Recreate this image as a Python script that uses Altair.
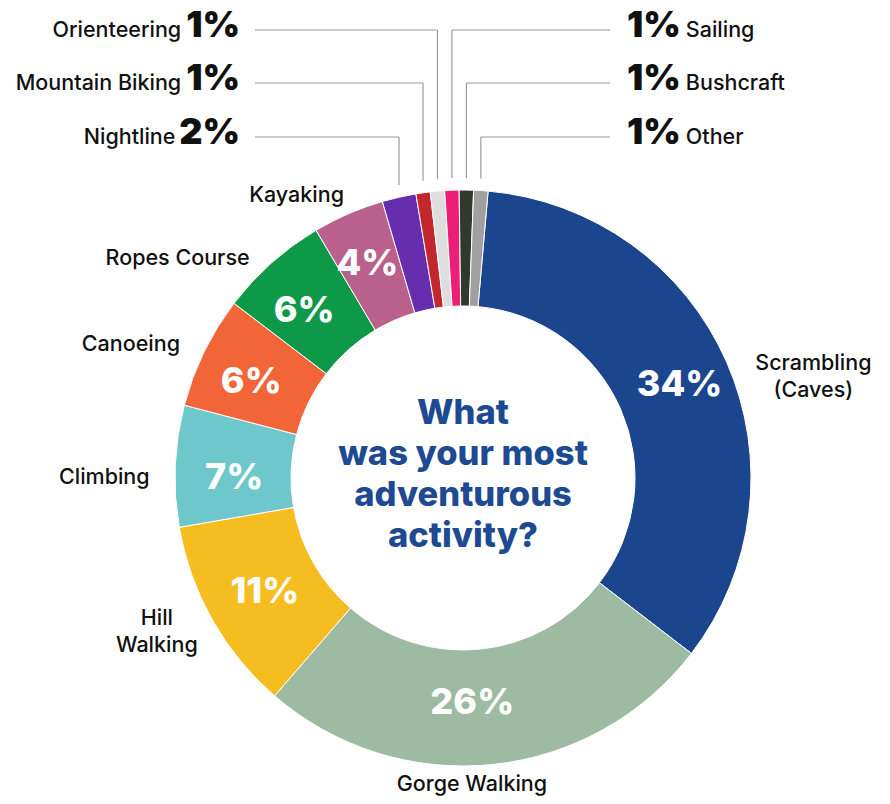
import math
import altair as alt
import pandas as pd

# ---------------- data ----------------
categories = ["Scrambling (Caves)", "Gorge Walking", "Hill Walking", "Climbing", "Canoeing",
              "Ropes Course", "Kayaking", "Nightline", "Mountain Biking", "Orienteering",
              "Sailing", "Bushcraft", "Other"]
display_names = ["Scrambling\n(Caves)", "Gorge Walking", "Hill\nWalking", "Climbing", "Canoeing",
                 "Ropes Course", "Kayaking", "Nightline", "Mountain Biking", "Orienteering",
                 "Sailing", "Bushcraft", "Other"]
shares = [34.0, 25.9, 10.9, 6.8, 6.3, 6.1, 4.0, 1.9, 0.8, 0.8, 0.8, 0.8, 0.8]
pct_labels = ["34%", "26%", "11%", "7%", "6%", "6%", "4%", "2%", "1%", "1%", "1%", "1%", "1%"]
colors = ["#1b468e", "#9dbba2", "#f5bd1f", "#6dc7cb", "#f26539", "#0e9949", "#b9608c",
          "#662daf", "#c4262e", "#dedede", "#ec1e78", "#2f3a2c", "#a0a0a0"]
title_text = "What\nwas your most\nadventurous\nactivity?"

# ---------------- layout ----------------
M = 8                      # page margin
W, H = 874, 788
CX, CY = 463 - M, 478 - M  # donut centre (plot coords)
R_OUT, R_IN = 288, 172
START = math.radians(5)
FONT = "Inter"
NAME_FS = 21.5
BIG_FS = 36
LABEL_LH = 27
TITLE_LH = 41

total = sum(shares)
n = len(categories)

# mid angles
mids = []
acc = 0.0
for s in shares:
    mids.append(START + (acc + s / 2) / total * 2 * math.pi)
    acc += s

def polar(a, r):
    return CX + r * math.sin(a), CY - r * math.cos(a)

# inner percent labels (large slices)
inner_nudge = {0: (6, 0), 1: (-14, -4), 2: (2, 1), 3: (1, 10), 4: (-5, 5), 5: (-6, 5), 6: (-4, -3)}
inner_rows = []
for i in range(n):
    if i in inner_nudge:
        x, y = polar(mids[i], 230)
        dx, dy = inner_nudge[i]
        inner_rows.append({"x": x + dx, "y": y + dy, "t": pct_labels[i]})
inner_df = pd.DataFrame(inner_rows)

# outer category labels (large slices); nudges give the block centre
outer_nudge = {0: (62, 26), 1: (-23, -6), 2: (-32, -1), 3: (-44, 13), 4: (-49, 5),
               5: (-76, 16), 6: (-41, 7)}
outer_rows = []
for i in range(n):
    if i in outer_nudge:
        x, y = polar(mids[i], 315)
        dx, dy = outer_nudge[i]
        lines = display_names[i].count("\n") + 1
        outer_rows.append({"x": x + dx, "y": y + dy - (lines - 1) * LABEL_LH / 2,
                           "t": display_names[i]})
outer_df = pd.DataFrame(outer_rows)

# small slices with leader lines
small = [i for i in range(n) if shares[i] < 3]
half = len(small) // 2
left = sorted(small[:half], reverse=True)   # top tier first
right = small[half:]
BASE_Y = [37 - M, 90 - M, 144 - M]
LEFT_END, RIGHT_END = 240 - M, 627 - M
LINE_L, LINE_R = 255 - M, 610 - M

def pct_width(t, fs):
    em = {"1": 0.6, "2": 0.76, "%": 0.84}
    return sum(em.get(ch, 0.7) for ch in t) * fs

seg_rows, big_rows, name_rows = [], [], []
for side, group in (("L", left), ("R", right)):
    for tier, i in enumerate(group):
        by = BASE_Y[tier]
        ly = by - 7
        vx = CX + R_OUT * math.sin(mids[i])
        vy = CY - math.sqrt((R_OUT + 12) ** 2 - (vx - CX) ** 2)
        seg_rows.append({"x": vx, "y": ly, "x2": vx, "y2": vy})
        pw = pct_width(pct_labels[i], BIG_FS)
        if side == "L":
            seg_rows.append({"x": LINE_L, "y": ly, "x2": vx, "y2": ly})
            big_rows.append({"x": LEFT_END, "y": by, "t": pct_labels[i], "a": "right"})
            name_rows.append({"x": LEFT_END - pw - 7, "y": by, "t": display_names[i], "a": "right"})
        else:
            seg_rows.append({"x": vx, "y": ly, "x2": LINE_R, "y2": ly})
            big_rows.append({"x": RIGHT_END, "y": by, "t": pct_labels[i], "a": "left"})
            name_rows.append({"x": RIGHT_END + pw + 7, "y": by, "t": display_names[i], "a": "left"})
seg_df = pd.DataFrame(seg_rows)
big_df = pd.DataFrame(big_rows)
name_df = pd.DataFrame(name_rows)

# ---------------- chart ----------------
slices = pd.DataFrame({"idx": list(range(n)), "name": categories, "share": shares})

X = lambda f: alt.X(f, scale=None, axis=None)
Y = lambda f: alt.Y(f, scale=None, axis=None)

arcs = alt.Chart(slices).mark_arc(
    outerRadius=R_OUT, innerRadius=R_IN, stroke="white", strokeWidth=1
).encode(
    theta=alt.Theta("share:Q", stack=True,
                    scale=alt.Scale(domain=[0, total], range=[START, START + 2 * math.pi])),
    order=alt.Order("idx:Q"),
    color=alt.Color("name:N", scale=alt.Scale(domain=categories, range=colors), legend=None),
    x=alt.value(CX), y=alt.value(CY),
)

inner = alt.Chart(inner_df).mark_text(
    font=FONT, fontSize=36, fontWeight=800, color="white", align="center", baseline="middle"
).encode(x=X("x:Q"), y=Y("y:Q"), text="t:N")

outer = alt.Chart(outer_df).mark_text(
    font=FONT, fontSize=NAME_FS, fontWeight=500, color="#111111", align="center",
    baseline="middle", lineBreak="\n", lineHeight=LABEL_LH
).encode(x=X("x:Q"), y=Y("y:Q"), text="t:N")

leaders = alt.Chart(seg_df).mark_rule(color="#9a9a9a", strokeWidth=1.2).encode(
    x=X("x:Q"), y=Y("y:Q"), x2="x2:Q", y2="y2:Q"
)

big_l = alt.Chart(big_df[big_df.a == "right"]).mark_text(
    font=FONT, fontSize=BIG_FS, fontWeight=900, color="#111111", align="right", baseline="alphabetic"
).encode(x=X("x:Q"), y=Y("y:Q"), text="t:N")
big_r = alt.Chart(big_df[big_df.a == "left"]).mark_text(
    font=FONT, fontSize=BIG_FS, fontWeight=900, color="#111111", align="left", baseline="alphabetic"
).encode(x=X("x:Q"), y=Y("y:Q"), text="t:N")
name_l = alt.Chart(name_df[name_df.a == "right"]).mark_text(
    font=FONT, fontSize=NAME_FS, fontWeight=500, color="#111111", align="right", baseline="alphabetic"
).encode(x=X("x:Q"), y=Y("y:Q"), text="t:N")
name_r = alt.Chart(name_df[name_df.a == "left"]).mark_text(
    font=FONT, fontSize=NAME_FS, fontWeight=500, color="#111111", align="left", baseline="alphabetic"
).encode(x=X("x:Q"), y=Y("y:Q"), text="t:N")

title_lines = title_text.count("\n") + 1
title = alt.Chart(pd.DataFrame({"t": [title_text]})).mark_text(
    font=FONT, fontSize=34.5, fontWeight=800, color="#1d4a92", align="center", baseline="middle",
    lineBreak="\n", lineHeight=TITLE_LH
).encode(x=alt.value(CX), y=alt.value(CY - 2.5 - (title_lines - 1) * TITLE_LH / 2), text="t:N")

chart = alt.layer(arcs, inner, outer, leaders, big_l, big_r, name_l, name_r, title).properties(
    width=W, height=H, padding=0, background="white",
    autosize=alt.AutoSizeParams(type="none")
).configure_view(stroke=None)

chart.save("out.html", embed_options={"renderer": "svg", "actions": False})
